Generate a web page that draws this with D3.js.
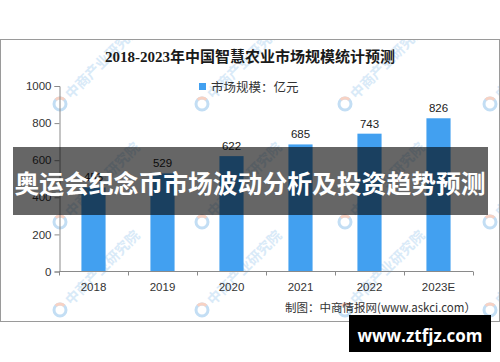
<!DOCTYPE html>
<meta charset="utf-8">
<style>
body { margin: 0; background: #fff; }
svg { display: block; }
text { font-family: "Liberation Sans", Arial, "Noto Sans CJK SC", sans-serif; }
</style>
<body>
<svg id="chart" width="500" height="362"></svg>
<script src="https://cdn.jsdelivr.net/npm/d3@7"></script>
<script>
// data
var years = ["2018", "2019", "2020", "2021", "2022", "2023E"];
var values = [453, 529, 622, 685, 743, 826];
var yTicks = [0, 200, 400, 600, 800, 1000];
var title = "2018-2023年中国智慧农业市场规模统计预测";
var legendLabel = "市场规模：亿元";
var sourceLabel = "制图：中商情报网(www.askci.com）";
var bannerText = "奥运会纪念币市场波动分析及投资趋势预测";
var siteText = "www.ztfjz.com";

var svg = d3.select("#chart");

// frame
svg.append("rect")
  .attr("x", 0.5).attr("y", 39.5)
  .attr("width", 499).attr("height", 282)
  .attr("fill", "#fff").attr("stroke", "#9a9a9a");

svg.append("clipPath").attr("id", "frameClip")
  .append("rect").attr("x", 1).attr("y", 40).attr("width", 498).attr("height", 281);

// watermarks (中商产业研究院)
var wmX = [60, 202, 345, 490], wmY = [104, 222, 310];
var wm = svg.append("g").attr("clip-path", "url(#frameClip)");
wmY.forEach(function (yy) {
  wmX.forEach(function (xx) {
    var g = wm.append("g").attr("transform", "translate(" + xx + "," + yy + ") rotate(-45)");
    g.append("circle").attr("r", 6).attr("fill", "none")
      .attr("stroke", "#c3def4").attr("stroke-width", 3);
    g.append("path").attr("d", "M0,-6 A6,6 0 0,1 6,0").attr("fill", "none")
      .attr("stroke", "#f7d2c4").attr("stroke-width", 3);
    g.append("text").attr("x", 11).attr("y", 5)
      .attr("font-size", 14).attr("font-weight", "bold")
      .style("font-family", "'Noto Sans CJK SC', sans-serif")
      .attr("fill", "#d9eaf8").text("中商产业研究院");
  });
});

// title
svg.append("text")
  .attr("x", 250).attr("y", 62)
  .attr("text-anchor", "middle")
  .attr("font-size", 15).attr("font-weight", "bold")
  .style("font-family", "'Liberation Serif', 'Noto Sans CJK SC', serif")
  .attr("fill", "#1a1a1a")
  .text(title);

// legend
svg.append("rect").attr("x", 199).attr("y", 83).attr("width", 7).attr("height", 7).attr("fill", "#42a0f0");
svg.append("text").attr("x", 211).attr("y", 91.5)
  .attr("font-size", 12.5).attr("fill", "#333")
  .style("font-family", "'Noto Sans CJK SC', sans-serif")
  .text(legendLabel);

// scales
var x = d3.scaleBand().domain(years).range([59, 473]).paddingInner(0.65).paddingOuter(0.325);
var y = d3.scaleLinear().domain([0, 1000]).range([271.5, 86]);

// y axis
var yAxis = svg.append("g")
  .attr("transform", "translate(59.5,0)")
  .call(d3.axisLeft(y).tickValues(yTicks).tickFormat(d3.format("d")).tickSize(5).tickPadding(3));
yAxis.select(".domain").attr("stroke", "#8a8a8a");
yAxis.selectAll(".tick line").attr("stroke", "#8a8a8a");
yAxis.selectAll(".tick text").attr("font-size", 11.5).attr("fill", "#333")
  .style("font-family", "'Liberation Sans', Arial, sans-serif");

// bars
svg.append("g").selectAll("rect")
  .data(values)
  .join("rect")
  .attr("x", function (d, i) { return x(years[i]); })
  .attr("y", function (d) { return y(d); })
  .attr("width", x.bandwidth())
  .attr("height", function (d) { return y(0) - y(d); })
  .attr("fill", "#42a0f0");

// value labels
svg.append("g").selectAll("text")
  .data(values)
  .join("text")
  .attr("x", function (d, i) { return x(years[i]) + x.bandwidth() / 2; })
  .attr("y", function (d) { return y(d) - 6; })
  .attr("text-anchor", "middle")
  .attr("font-size", 11.5).attr("fill", "#222")
  .text(function (d) { return d; });

// x axis with ticks at band edges
var xg = svg.append("g");
xg.append("line").attr("x1", 59).attr("x2", 473).attr("y1", 271.5).attr("y2", 271.5).attr("stroke", "#8a8a8a");
var edges = years.map(function (d) { return x(d) - x.step() * x.paddingInner() / 2; });
edges.push(473);
xg.selectAll(".edge").data(edges).join("line")
  .attr("class", "edge")
  .attr("x1", function (d) { return Math.round(d) + 0.5; })
  .attr("x2", function (d) { return Math.round(d) + 0.5; })
  .attr("y1", 271.5).attr("y2", 275.5).attr("stroke", "#8a8a8a");
xg.selectAll(".yl").data(years).join("text")
  .attr("class", "yl")
  .attr("x", function (d) { return x(d) + x.bandwidth() / 2; })
  .attr("y", 291)
  .attr("text-anchor", "middle")
  .attr("font-size", 11.5).attr("fill", "#333")
  .text(function (d) { return d; });

// source
svg.append("text")
  .attr("x", 476).attr("y", 312)
  .attr("text-anchor", "end")
  .attr("font-size", 11.5).attr("fill", "#333")
  .style("font-family", "'Noto Sans CJK SC', sans-serif")
  .text(sourceLabel);

// dark banner overlay
svg.append("rect")
  .attr("x", 13).attr("y", 147).attr("width", 475).attr("height", 68)
  .attr("fill", "#000").attr("fill-opacity", 0.6);
svg.append("text")
  .attr("x", 250).attr("y", 193)
  .attr("text-anchor", "middle")
  .attr("font-size", 24.8).attr("font-weight", "bold")
  .style("font-family", "'Noto Sans CJK SC', sans-serif")
  .attr("fill", "#fff")
  .text(bannerText);

// site badge
svg.append("rect")
  .attr("x", 349).attr("y", 315).attr("width", 142).attr("height", 37)
  .attr("fill", "#000");
svg.append("text")
  .attr("x", 420).attr("y", 342)
  .attr("text-anchor", "middle")
  .attr("font-size", 17).attr("font-weight", "bold")
  .style("font-family", "'Open Sans', sans-serif")
  .attr("fill", "#fff")
  .text(siteText);
</script>
</body>
